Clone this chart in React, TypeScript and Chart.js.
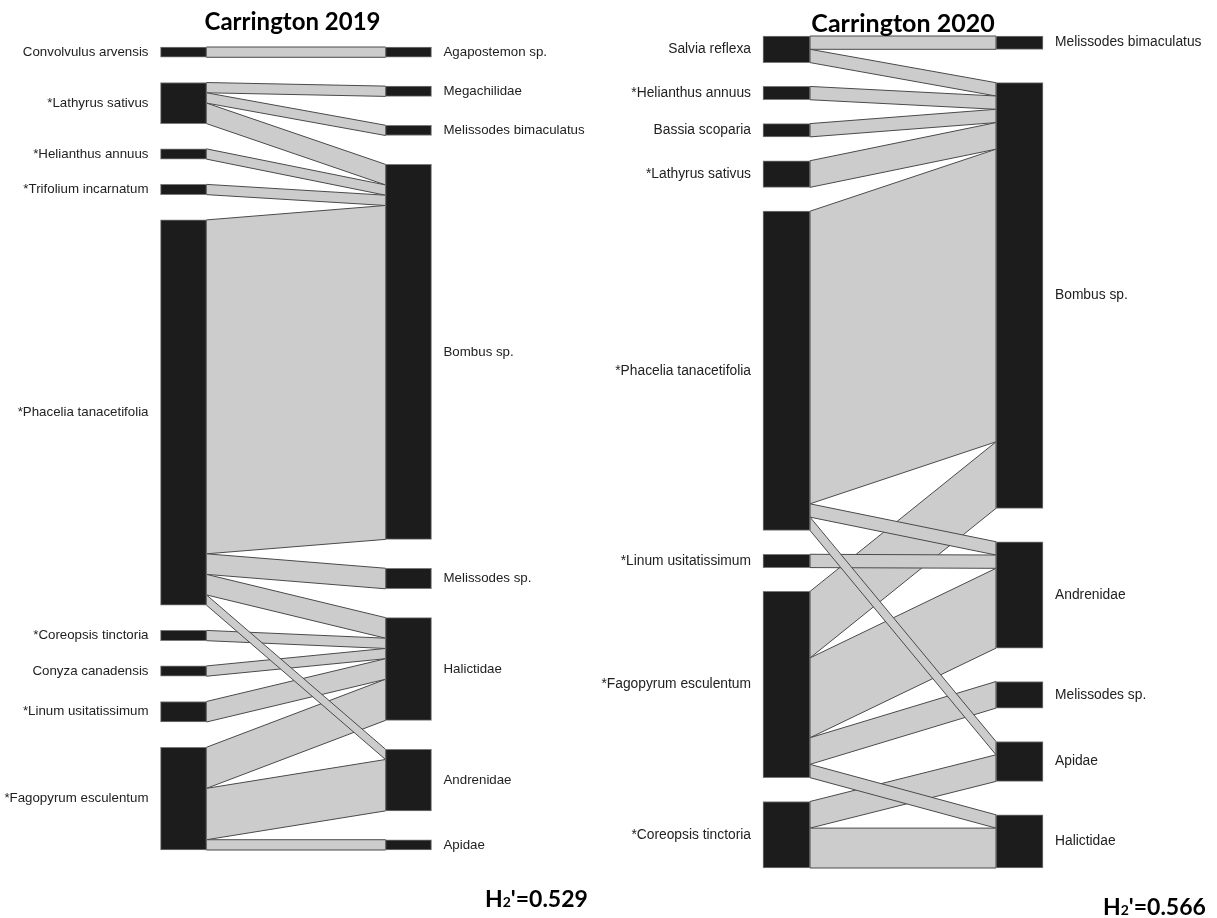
import React, { useEffect, useRef } from "react";
import { Chart, registerables } from "chart.js";

Chart.register(...registerables);

// ---------------- DATA ----------------
const title2019 = "Carrington 2019";
const h2Value2019 = "0.529";
const plants2019 = [
  "Convolvulus arvensis",
  "*Lathyrus sativus",
  "*Helianthus annuus",
  "*Trifolium incarnatum",
  "*Phacelia tanacetifolia",
  "*Coreopsis tinctoria",
  "Conyza canadensis",
  "*Linum usitatissimum",
  "*Fagopyrum esculentum",
];
const pollinators2019 = [
  "Agapostemon sp.",
  "Megachilidae",
  "Melissodes bimaculatus",
  "Bombus sp.",
  "Melissodes sp.",
  "Halictidae",
  "Andrenidae",
  "Apidae",
];
const linkPlant2019 = [0, 1, 1, 1, 2, 3, 4, 4, 4, 4, 5, 6, 7, 8, 8, 8];
const linkPollinator2019 = [0, 1, 2, 3, 3, 3, 3, 4, 5, 6, 5, 5, 5, 5, 6, 7];
const linkCount2019 = [1, 1, 1, 2, 1, 1, 32.5, 2, 2, 1, 1, 1, 2, 4, 5, 1];

const title2020 = "Carrington 2020";
const h2Value2020 = "0.566";
const plants2020 = [
  "Salvia reflexa",
  "*Helianthus annuus",
  "Bassia scoparia",
  "*Lathyrus sativus",
  "*Phacelia tanacetifolia",
  "*Linum usitatissimum",
  "*Fagopyrum esculentum",
  "*Coreopsis tinctoria",
];
const pollinators2020 = [
  "Melissodes bimaculatus",
  "Bombus sp.",
  "Andrenidae",
  "Melissodes sp.",
  "Apidae",
  "Halictidae",
];
const linkPlant2020 = [0, 0, 1, 2, 3, 4, 4, 4, 5, 6, 6, 6, 6, 7, 7];
const linkPollinator2020 = [0, 1, 1, 1, 1, 1, 2, 4, 2, 1, 2, 3, 5, 4, 5];
const linkCount2020 = [1, 1, 1, 1, 2, 22, 1, 1, 1, 5, 6, 2, 1, 2, 3];

// ---------------- LAYOUT / STYLE ----------------
const BOX_FILL = "#1c1c1c";
const BOX_BORDER = "#7a7a7a";
const LINK_FILL = "#cccccc";
const LINK_STROKE = "#4a4a4a";
const LABEL_FAMILY = '"Liberation Sans", Arial, sans-serif';
const LABEL_COLOR = "#222222";
const BOLD_FAMILY = 'Lato, "Open Sans", sans-serif';

type Panel = {
  title: string;
  h2: string;
  plants: string[];
  pollinators: string[];
  lp: number[];
  lq: number[];
  lc: number[];
  canvasLeft: number;
  canvasWidth: number;
  plantX: number;
  pollX: number;
  boxW: number;
  top: number;
  bottom: number;
  gapShare: number;
  labelSize: number;
  titleSize: number;
  titleX: number;
  titleY: number;
  h2X: number;
  h2Y: number;
};

const PAGE_H = 918;

const panels: Panel[] = [
  {
    title: title2019,
    h2: h2Value2019,
    plants: plants2019,
    pollinators: pollinators2019,
    lp: linkPlant2019,
    lq: linkPollinator2019,
    lc: linkCount2019,
    canvasLeft: 0,
    canvasWidth: 610,
    plantX: 183.5,
    pollX: 408.5,
    boxW: 46,
    top: 47,
    bottom: 850,
    gapShare: 0.336,
    labelSize: 13.3,
    titleSize: 24,
    titleX: 292.5,
    titleY: 30,
    h2X: 485,
    h2Y: 907,
  },
  {
    title: title2020,
    h2: h2Value2020,
    plants: plants2020,
    pollinators: pollinators2020,
    lp: linkPlant2020,
    lq: linkPollinator2020,
    lc: linkCount2020,
    canvasLeft: 560,
    canvasWidth: 657,
    plantX: 786.5,
    pollX: 1019.5,
    boxW: 47,
    top: 36,
    bottom: 868,
    gapShare: 0.251,
    labelSize: 13.8,
    titleSize: 25,
    titleX: 903,
    titleY: 32,
    h2X: 1103,
    h2Y: 915,
  },
];

type Geom = {
  plantBox: [number, number][];
  pollBox: [number, number][];
  linkP: [number, number][];
  linkQ: [number, number][];
  order: number[];
  extent: number;
};

function buildGeom(p: Panel): Geom {
  const nP = p.plants.length;
  const nQ = p.pollinators.length;
  const totP = new Array(nP).fill(0);
  const totQ = new Array(nQ).fill(0);
  p.lc.forEach((c, i) => {
    totP[p.lp[i]] += c;
    totQ[p.lq[i]] += c;
  });
  const total = totP.reduce((a, b) => a + b, 0);
  const extent = total * (1 + p.gapShare);
  const gapP = (extent - total) / (nP - 1);
  const gapQ = (extent - total) / (nQ - 1);
  const plantBox: [number, number][] = [];
  let y = 0;
  for (let i = 0; i < nP; i++) {
    plantBox.push([y, y + totP[i]]);
    y += totP[i] + gapP;
  }
  const pollBox: [number, number][] = [];
  y = 0;
  for (let j = 0; j < nQ; j++) {
    pollBox.push([y, y + totQ[j]]);
    y += totQ[j] + gapQ;
  }
  const idx = p.lc.map((_, i) => i);
  const linkP: [number, number][] = new Array(p.lc.length);
  const linkQ: [number, number][] = new Array(p.lc.length);
  const offP = plantBox.map((b) => b[0]);
  [...idx]
    .sort((a, b) => p.lp[a] - p.lp[b] || p.lq[a] - p.lq[b])
    .forEach((i) => {
      const s = offP[p.lp[i]];
      linkP[i] = [s, s + p.lc[i]];
      offP[p.lp[i]] += p.lc[i];
    });
  const offQ = pollBox.map((b) => b[0]);
  const order = [...idx].sort((a, b) => p.lq[a] - p.lq[b] || p.lp[a] - p.lp[b]);
  order.forEach((i) => {
    const s = offQ[p.lq[i]];
    linkQ[i] = [s, s + p.lc[i]];
    offQ[p.lq[i]] += p.lc[i];
  });
  return { plantBox, pollBox, linkP, linkQ, order, extent };
}

function makePlugin(p: Panel, g: Geom) {
  const half = p.boxW / 2;
  return {
    id: "webPlugin",
    beforeDatasetsDraw(chart: any) {
      const { ctx } = chart;
      const xs = chart.scales.x;
      const ys = chart.scales.y;
      const xl = xs.getPixelForValue(0) + half;
      const xr = xs.getPixelForValue(1) - half;
      ctx.save();
      ctx.fillStyle = LINK_FILL;
      ctx.strokeStyle = LINK_STROKE;
      ctx.lineWidth = 1;
      g.order.forEach((i) => {
        const a = g.linkP[i];
        const b = g.linkQ[i];
        ctx.beginPath();
        ctx.moveTo(xl, ys.getPixelForValue(a[0]));
        ctx.lineTo(xr, ys.getPixelForValue(b[0]));
        ctx.lineTo(xr, ys.getPixelForValue(b[1]));
        ctx.lineTo(xl, ys.getPixelForValue(a[1]));
        ctx.closePath();
        ctx.fill();
        ctx.stroke();
      });
      ctx.restore();
    },
    afterDatasetsDraw(chart: any) {
      const { ctx } = chart;
      const xs = chart.scales.x;
      const ys = chart.scales.y;
      const xPlant = xs.getPixelForValue(0);
      const xPoll = xs.getPixelForValue(1);
      ctx.save();
      ctx.font = `${p.labelSize}px ${LABEL_FAMILY}`;
      ctx.fillStyle = LABEL_COLOR;
      ctx.textBaseline = "middle";
      ctx.textAlign = "right";
      p.plants.forEach((name, i) => {
        const b = g.plantBox[i];
        const yc = ys.getPixelForValue((b[0] + b[1]) / 2);
        ctx.fillText(name, xPlant - half - 12, yc);
      });
      ctx.textAlign = "left";
      p.pollinators.forEach((name, j) => {
        const b = g.pollBox[j];
        const yc = ys.getPixelForValue((b[0] + b[1]) / 2);
        ctx.fillText(name, xPoll + half + 12, yc);
      });
      ctx.fillStyle = "#000000";
      ctx.font = `bold ${p.titleSize}px ${BOLD_FAMILY}`;
      ctx.textAlign = "center";
      ctx.textBaseline = "alphabetic";
      ctx.fillText(p.title, p.titleX - p.canvasLeft, p.titleY);
      ctx.textAlign = "left";
      let x = p.h2X - p.canvasLeft;
      const yb = p.h2Y;
      ctx.font = `bold 23px ${BOLD_FAMILY}`;
      ctx.fillText("H", x, yb);
      x += ctx.measureText("H").width;
      ctx.font = `bold 14px ${BOLD_FAMILY}`;
      ctx.fillText("2", x, yb);
      x += ctx.measureText("2").width;
      ctx.font = `bold 23px ${BOLD_FAMILY}`;
      ctx.fillText("'=" + p.h2, x, yb);
      ctx.restore();
    },
  };
}

function PanelChart({ panel }: { panel: Panel }) {
  const ref = useRef<HTMLCanvasElement | null>(null);
  useEffect(() => {
    if (!ref.current) return;
    const g = buildGeom(panel);
    const plantCx = panel.plantX - panel.canvasLeft;
    const pollCx = panel.pollX - panel.canvasLeft;
    const boxDataset = (label: string, xv: number, boxes: [number, number][]) => ({
      label,
      data: boxes.map((b) => ({ x: xv, y: [b[0], b[1]] })) as any,
      backgroundColor: BOX_FILL,
      borderColor: BOX_BORDER,
      borderWidth: 1,
      borderSkipped: false,
      barThickness: panel.boxW,
      grouped: false,
      clip: false as any,
    });
    const chart = new Chart(ref.current, {
      type: "bar",
      data: {
        datasets: [
          boxDataset("plants", 0, g.plantBox),
          boxDataset("pollinators", 1, g.pollBox),
        ] as any,
      },
      options: {
        responsive: false,
        animation: false,
        devicePixelRatio: 1,
        events: [],
        layout: {
          padding: {
            left: plantCx,
            right: panel.canvasWidth - pollCx,
            top: panel.top,
            bottom: PAGE_H - panel.bottom,
          },
        },
        scales: {
          x: { type: "linear", min: 0, max: 1, offset: false, display: false },
          y: { type: "linear", min: 0, max: g.extent, reverse: true, display: false },
        },
        plugins: {
          legend: { display: false },
          title: { display: false },
          tooltip: { enabled: false },
        },
      },
      plugins: [makePlugin(panel, g)],
    });
    const fonts: any = (document as any).fonts;
    if (fonts && fonts.load) {
      Promise.all([fonts.load("bold 23px Lato"), fonts.load('13px "Liberation Sans"')]).then(() => {
        try {
          chart.draw();
        } catch (e) {}
      });
    }
    return () => chart.destroy();
  }, [panel]);
  return (
    <div
      style={{
        position: "absolute",
        left: panel.canvasLeft,
        top: 0,
        width: panel.canvasWidth,
        height: PAGE_H,
      }}
    >
      <canvas ref={ref} width={panel.canvasWidth} height={PAGE_H} style={{ display: "block" }} />
    </div>
  );
}

export default function App() {
  return (
    <div
      style={{
        position: "absolute",
        left: 0,
        top: 0,
        width: 1217,
        height: PAGE_H,
        background: "#ffffff",
        overflow: "hidden",
      }}
    >
      {panels.map((p) => (
        <PanelChart key={p.title} panel={p} />
      ))}
    </div>
  );
}
